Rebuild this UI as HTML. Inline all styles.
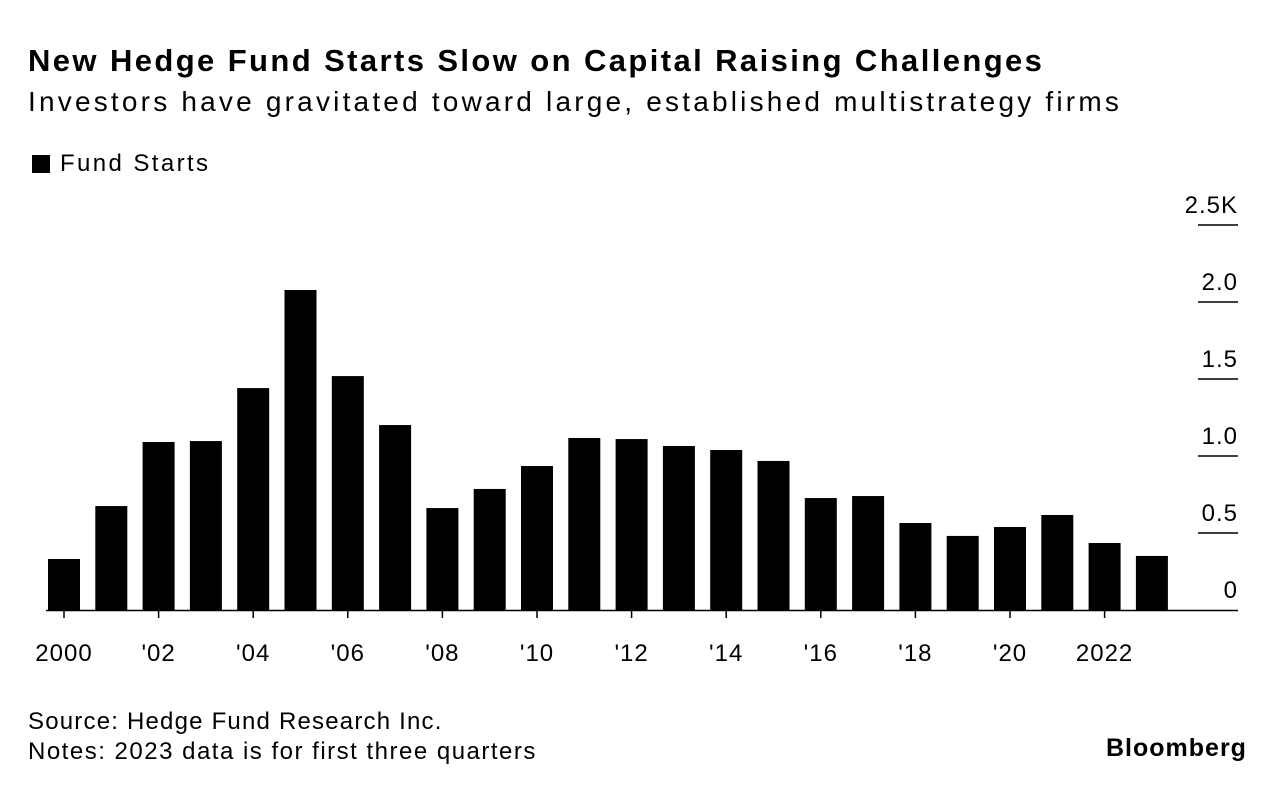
<!DOCTYPE html>
<html><head><meta charset="utf-8"><style>
body{margin:0;background:#fff;font-family:"Liberation Sans",sans-serif;color:#000;}
#wrap{position:relative;width:1286px;height:792px;overflow:hidden;}
.t{position:absolute;white-space:nowrap;}
</style></head><body>
<div id="wrap">
<div class="t" style="left:28px;top:43px;font-size:31px;font-weight:bold;letter-spacing:2.4px">New Hedge Fund Starts Slow on Capital Raising Challenges</div>
<div class="t" style="left:28px;top:86px;font-size:28px;letter-spacing:3.2px">Investors have gravitated toward large, established multistrategy firms</div>
<div class="t" style="left:32px;top:150px;font-size:24px;letter-spacing:2.4px"><span style="display:inline-block;width:18px;height:18px;background:#000;margin-right:10px;vertical-align:-2px"></span>Fund Starts</div>
<svg id="c" width="1286" height="792" style="position:absolute;left:0;top:0"></svg>
<div class="t" style="left:28px;top:708px;font-size:24px;letter-spacing:1.2px">Source: Hedge Fund Research Inc.</div>
<div class="t" style="left:28px;top:738px;font-size:24px;letter-spacing:1.5px">Notes: 2023 data is for first three quarters</div>
<div class="t" style="left:1106px;top:734px;font-size:25px;font-weight:bold;letter-spacing:1px">Bloomberg</div>
</div>
<script>
const years=[2000,2001,2002,2003,2004,2005,2006,2007,2008,2009,2010,2011,2012,2013,2014,2015,2016,2017,2018,2019,2020,2021,2022,2023];
const fundStarts=[331,675,1091,1097,1441,2078,1519,1201,662,786,935,1117,1110,1065,1039,968,727,740,565,481,539,617,435,351];
const yTicks=[0,500,1000,1500,2000,2500];
const yTickLabels=["0","0.5","1.0","1.5","2.0","2.5K"];
const xLabels=["2000","'02","'04","'06","'08","'10","'12","'14","'16","'18","'20","2022"];
const ns="http://www.w3.org/2000/svg";
const svg=document.getElementById('c');
const y0=610,pxPer=154/1000,x0=48,step=47.3,bw=32;
const Y=v=>y0-v*pxPer;
const X=i=>x0+i*step;
function mk(t,a){const e=document.createElementNS(ns,t);for(const k in a)e.setAttribute(k,a[k]);svg.appendChild(e);return e;}
fundStarts.forEach((v,i)=>{
 const r=mk('rect',{x:X(i),y:Y(v),width:bw,height:v*pxPer,fill:'#000'});
 
 
});
const base=mk('line',{x1:46,x2:1238,y1:y0+0.5,y2:y0+0.5,stroke:'#000','stroke-width':1.5});


yTicks.forEach((v,i)=>{
 if(v>0){const l=mk('line',{x1:1198,x2:1238,y1:Y(v),y2:Y(v),stroke:'#000','stroke-width':1.5});
 
 }
 const t=mk('text',{x:1238,y:Y(v)-12,'text-anchor':'end','font-size':24,'letter-spacing':1,'font-family':'Liberation Sans, sans-serif'});
 t.textContent=yTickLabels[i];
 
 
});
xLabels.forEach((s,j)=>{
 const i=j*2;
 const tk=mk('line',{x1:X(i)+bw/2,x2:X(i)+bw/2,y1:y0,y2:y0+8,stroke:'#000','stroke-width':1.5});
 
 
 const t=mk('text',{x:X(i)+bw/2,y:661,'text-anchor':'middle','font-size':24,'letter-spacing':1,'font-family':'Liberation Sans, sans-serif'});
 t.textContent=s;
 
 
});
</script>
</body></html>
